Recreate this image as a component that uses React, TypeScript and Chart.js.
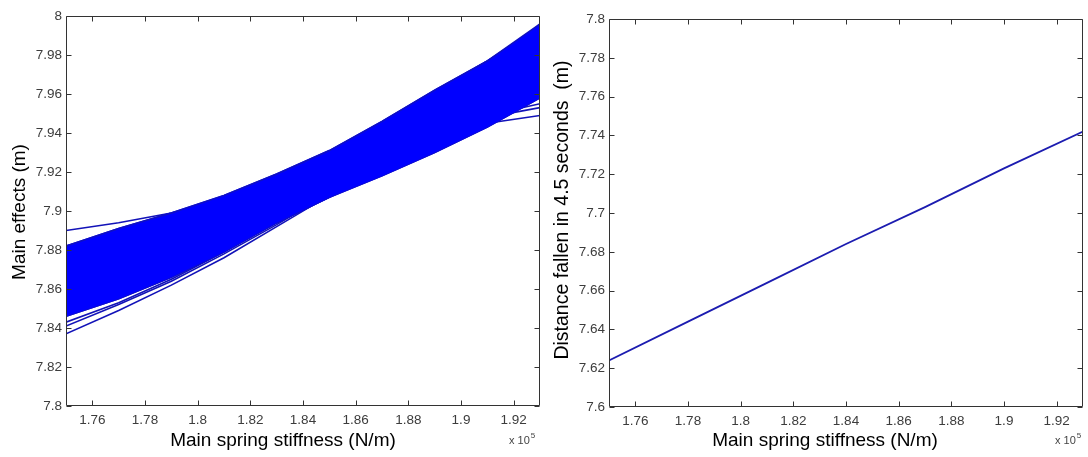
import React, { useEffect, useRef } from "react";
import { Chart, registerables } from "chart.js";

Chart.register(...registerables);

// ---------- data ----------
// x values are main spring stiffness in units of 1e5 N/m
const stiffness = [1.75, 1.77, 1.79, 1.81, 1.83, 1.85, 1.87, 1.89, 1.91, 1.93];
const xTicks = [1.76, 1.78, 1.8, 1.82, 1.84, 1.86, 1.88, 1.9, 1.92];
const leftYTicks = [7.8, 7.82, 7.84, 7.86, 7.88, 7.9, 7.92, 7.94, 7.96, 7.98, 8];
const rightYTicks = [7.6, 7.62, 7.64, 7.66, 7.68, 7.7, 7.72, 7.74, 7.76, 7.78, 7.8];

// dense envelope of the main-effect curves
const bandUpper = [7.882, 7.891, 7.899, 7.908, 7.919, 7.931, 7.946, 7.962, 7.977, 7.996];
const bandLower = [7.846, 7.855, 7.866, 7.879, 7.894, 7.907, 7.918, 7.930, 7.943, 7.958];

// individual main-effect curves
const effect01 = [7.890, 7.894, 7.899, 7.905, 7.913, 7.921, 7.929, 7.937, 7.945, 7.949];
const effect02 = [7.882, 7.889, 7.897, 7.906, 7.915, 7.924, 7.933, 7.941, 7.948, 7.953];
const effect03 = [7.880, 7.888, 7.896, 7.905, 7.914, 7.923, 7.932, 7.941, 7.949, 7.955];
const effect04 = [7.837, 7.849, 7.862, 7.876, 7.892, 7.908, 7.925, 7.946, 7.968, 7.990];
const effect05 = [7.841, 7.852, 7.864, 7.878, 7.893, 7.909, 7.926, 7.946, 7.967, 7.988];
const effect06 = [7.843, 7.853, 7.865, 7.879, 7.894, 7.910, 7.928, 7.948, 7.970, 7.993];
const effect07 = [7.860, 7.869, 7.880, 7.892, 7.905, 7.919, 7.935, 7.952, 7.971, 7.996];
const effect08 = [7.870, 7.878, 7.887, 7.898, 7.911, 7.925, 7.942, 7.960, 7.976, 7.994];
const effect09 = [7.876, 7.884, 7.893, 7.903, 7.915, 7.928, 7.944, 7.961, 7.977, 7.995];
const effect10 = [7.882, 7.891, 7.899, 7.908, 7.919, 7.931, 7.946, 7.962, 7.977, 7.992];
const effect11 = [7.846, 7.855, 7.866, 7.879, 7.894, 7.907, 7.920, 7.935, 7.952, 7.972];
const effect12 = [7.850, 7.858, 7.868, 7.880, 7.894, 7.907, 7.918, 7.930, 7.943, 7.958];
const effect13 = [7.865, 7.873, 7.882, 7.893, 7.904, 7.915, 7.926, 7.938, 7.951, 7.965];
const effect14 = [7.874, 7.881, 7.889, 7.898, 7.908, 7.918, 7.929, 7.941, 7.953, 7.966];
const effect15 = [7.855, 7.864, 7.874, 7.886, 7.899, 7.912, 7.926, 7.941, 7.958, 7.978];
const effect16 = [7.868, 7.876, 7.885, 7.895, 7.907, 7.920, 7.934, 7.949, 7.965, 7.983];

const edgeCurves = [effect01, effect02, effect03, effect04, effect05, effect06];
const innerCurves = [effect07, effect08, effect09, effect10, effect11, effect12, effect13, effect14, effect15, effect16];

// distance fallen in 4.5 s
const distanceX = [1.75, 1.78, 1.81, 1.84, 1.87, 1.9, 1.93];
const distanceFallen = [7.624, 7.644, 7.664, 7.684, 7.703, 7.723, 7.742];

// ---------- helpers ----------
const FONT = "Arial, 'Liberation Sans', Helvetica, sans-serif";
const AXIS_COLOR = "#333333";
const TICK_COLOR = "#3c3c3c";

const pts = (xs: number[], ys: number[]) => xs.map((x, i) => ({ x, y: ys[i] }));
const fmt = (v: number) => String(Number(Number(v).toFixed(2)));

type FrameOpts = {
  xTitle: string;
  yTitle: string;
  xTitleX: number;
  xTitleY: number;
  yTitleX: number;
  yTitleY: number;
  yTitleSize: number;
  expX: number;
  expY: number;
};

function framePlugin(o: FrameOpts) {
  return {
    id: "matlabFrame",
    afterDraw(chart: any) {
      const { ctx, chartArea: a, scales } = chart;
      ctx.save();
      ctx.strokeStyle = AXIS_COLOR;
      ctx.lineWidth = 1;
      const L = Math.round(a.left) + 0.5;
      const R = Math.round(a.right) - 0.5;
      const T = Math.round(a.top) + 0.5;
      const B = Math.round(a.bottom) - 0.5;
      ctx.beginPath();
      ctx.rect(L, T, R - L, B - T);
      const tl = 5;
      scales.x.ticks.forEach((t: any) => {
        const px = Math.round(scales.x.getPixelForValue(t.value)) + 0.5;
        ctx.moveTo(px, B);
        ctx.lineTo(px, B - tl);
        ctx.moveTo(px, T);
        ctx.lineTo(px, T + tl);
      });
      scales.y.ticks.forEach((t: any) => {
        const py = Math.round(scales.y.getPixelForValue(t.value)) + 0.5;
        ctx.moveTo(L, py);
        ctx.lineTo(L + tl, py);
        ctx.moveTo(R, py);
        ctx.lineTo(R - tl, py);
      });
      ctx.stroke();

      ctx.fillStyle = "#000";
      ctx.font = `19px ${FONT}`;
      ctx.textAlign = "center";
      ctx.textBaseline = "middle";
      ctx.fillText(o.xTitle, o.xTitleX, o.xTitleY);
      ctx.save();
      ctx.translate(o.yTitleX, o.yTitleY);
      ctx.rotate(-Math.PI / 2);
      ctx.font = `${o.yTitleSize}px ${FONT}`;
      ctx.fillText(o.yTitle, 0, 0);
      ctx.restore();

      ctx.fillStyle = "#444";
      ctx.textAlign = "left";
      ctx.textBaseline = "alphabetic";
      ctx.font = `11px ${FONT}`;
      ctx.fillText("x 10", o.expX, o.expY);
      const w = ctx.measureText("x 10").width;
      ctx.font = `8px ${FONT}`;
      ctx.fillText("5", o.expX + w + 1, o.expY - 6);
      ctx.restore();
    },
  };
}

function scalesFor(yTicks: number[], yMin: number, yMax: number, yWidth: number, xHeight: number) {
  return {
    x: {
      type: "linear" as const,
      min: 1.75,
      max: 1.93,
      afterBuildTicks: (s: any) => {
        s.ticks = xTicks.map((v) => ({ value: v }));
      },
      afterFit: (s: any) => {
        s.height = xHeight;
      },
      grid: { display: false, drawTicks: false },
      border: { display: false },
      ticks: {
        padding: 6,
        color: TICK_COLOR,
        font: { family: FONT, size: 13.5 },
        callback: (v: any) => fmt(v),
        maxRotation: 0,
        autoSkip: false,
      },
    },
    y: {
      type: "linear" as const,
      min: yMin,
      max: yMax,
      afterBuildTicks: (s: any) => {
        s.ticks = yTicks.map((v) => ({ value: v }));
      },
      afterFit: (s: any) => {
        s.width = yWidth;
      },
      grid: { display: false, drawTicks: false },
      border: { display: false },
      ticks: {
        padding: 4,
        color: TICK_COLOR,
        font: { family: FONT, size: 13.5 },
        callback: (v: any) => fmt(v),
        autoSkip: false,
      },
    },
  };
}

function LeftChart() {
  const ref = useRef<HTMLCanvasElement>(null);
  useEffect(() => {
    const datasets: any[] = [];
    // band first so that it is painted on top of the curves that run through it
    datasets.push({
      data: pts(stiffness, bandUpper),
      borderColor: "#1010c0",
      borderWidth: 1.5,
      backgroundColor: "#0000ff",
      pointRadius: 0,
      fill: "+1",
      tension: 0,
    });
    datasets.push({
      data: pts(stiffness, bandLower),
      borderColor: "#1010c0",
      borderWidth: 1.5,
      pointRadius: 0,
      fill: false,
      tension: 0,
    });
    innerCurves.forEach((c) =>
      datasets.push({
        data: pts(stiffness, c),
        borderColor: "#0000ff",
        borderWidth: 1.5,
        pointRadius: 0,
        fill: false,
        tension: 0,
      })
    );
    edgeCurves.forEach((c) =>
      datasets.push({
        data: pts(stiffness, c),
        borderColor: "#1212b8",
        borderWidth: 1.6,
        pointRadius: 0,
        fill: false,
        tension: 0,
      })
    );
    const chart = new Chart(ref.current!, {
      type: "line",
      data: { datasets },
      options: {
        responsive: false,
        animation: false,
        events: [],
        layout: { padding: { left: 0, right: 8, top: 16, bottom: 0 } },
        plugins: { legend: { display: false }, tooltip: { enabled: false } },
        scales: scalesFor(leftYTicks, 7.8, 8, 66, 51),
      },
      plugins: [
        framePlugin({
          xTitle: "Main spring stiffness (N/m)",
          yTitle: "Main effects (m)",
          xTitleX: 283,
          xTitleY: 441,
          yTitleX: 20,
          yTitleY: 212,
          yTitleSize: 19,
          expX: 509,
          expY: 444,
        }),
      ],
    });
    return () => chart.destroy();
  }, []);
  return (
    <canvas
      ref={ref}
      width={548}
      height={457}
      style={{ position: "absolute", left: 0, top: 0, width: 548, height: 457 }}
    />
  );
}

function RightChart() {
  const ref = useRef<HTMLCanvasElement>(null);
  useEffect(() => {
    const chart = new Chart(ref.current!, {
      type: "line",
      data: {
        datasets: [
          {
            data: pts(distanceX, distanceFallen),
            borderColor: "#1c1cb0",
            borderWidth: 1.8,
            pointRadius: 0,
            fill: false,
            tension: 0,
          },
        ],
      },
      options: {
        responsive: false,
        animation: false,
        events: [],
        layout: { padding: { left: 0, right: 5, top: 19, bottom: 0 } },
        plugins: { legend: { display: false }, tooltip: { enabled: false } },
        scales: scalesFor(rightYTicks, 7.6, 7.8, 61, 50),
      },
      plugins: [
        framePlugin({
          xTitle: "Main spring stiffness (N/m)",
          yTitle: "Distance fallen in 4.5 seconds  (m)",
          xTitleX: 277,
          xTitleY: 441,
          yTitleX: 15,
          yTitleY: 210,
          yTitleSize: 19.5,
          expX: 507,
          expY: 444,
        }),
      ],
    });
    return () => chart.destroy();
  }, []);
  return (
    <canvas
      ref={ref}
      width={540}
      height={457}
      style={{ position: "absolute", left: 548, top: 0, width: 540, height: 457 }}
    />
  );
}

export default function App() {
  return (
    <div style={{ position: "absolute", left: 0, top: 0, width: 1088, height: 457, background: "#fff" }}>
      <LeftChart />
      <RightChart />
    </div>
  );
}
